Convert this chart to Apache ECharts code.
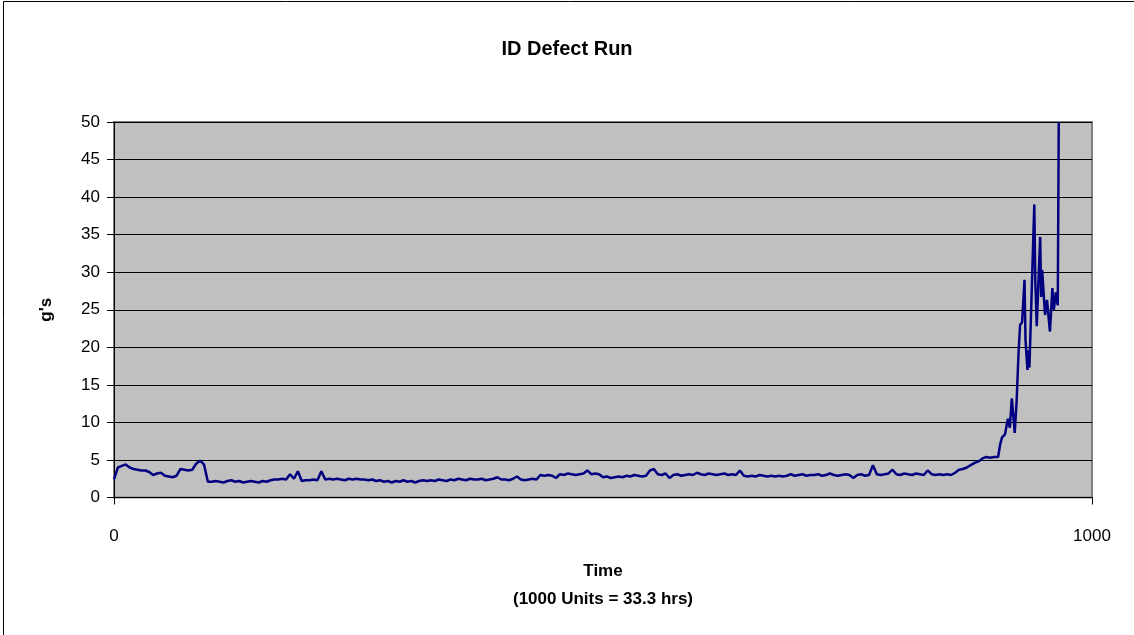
<!DOCTYPE html>
<html>
<head>
<meta charset="utf-8">
<title>ID Defect Run</title>
<script src="https://cdn.jsdelivr.net/npm/echarts@6/dist/echarts.min.js"></script>
<style>
  html, body { margin: 0; padding: 0; background: #fff; }
  #chart { width: 1134px; height: 635px; }
</style>
</head>
<body>
<div id="chart"></div>
<script>
// readings every 4 time units, t = 0 .. 904
const flatStep = 4;
const flatValues = [
  2.4, 4.0, 4.2, 4.4, 4.0, 3.8, 3.7, 3.6, 3.6, 3.4,
  3.0, 3.2, 3.3, 2.9, 2.8, 2.7, 2.9, 3.8, 3.7, 3.6,
  3.7, 4.5, 4.9, 4.4, 2.1, 2.1, 2.2, 2.1, 2.0, 2.2,
  2.3, 2.1, 2.2, 2.0, 2.1, 2.2, 2.1, 2.0, 2.2, 2.1,
  2.3, 2.4, 2.4, 2.5, 2.4, 3.1, 2.5, 3.5, 2.2, 2.3,
  2.3, 2.4, 2.3, 3.5, 2.4, 2.5, 2.4, 2.5, 2.4, 2.3,
  2.5, 2.4, 2.5, 2.4, 2.4, 2.3, 2.4, 2.2, 2.3, 2.1,
  2.2, 2.0, 2.2, 2.1, 2.3, 2.1, 2.2, 2.0, 2.2, 2.3,
  2.2, 2.3, 2.2, 2.4, 2.3, 2.2, 2.4, 2.3, 2.5, 2.4,
  2.3, 2.5, 2.4, 2.4, 2.5, 2.3, 2.4, 2.5, 2.7, 2.4,
  2.4, 2.3, 2.5, 2.8, 2.4, 2.3, 2.4, 2.5, 2.4, 3.0,
  2.9, 3.0, 2.9, 2.6, 3.1, 3.0, 3.2, 3.1, 3.0, 3.1,
  3.2, 3.6, 3.1, 3.2, 3.1, 2.7, 2.8, 2.6, 2.7, 2.8,
  2.7, 2.9, 2.8, 3.0, 2.9, 2.8, 2.9, 3.6, 3.8, 3.1,
  3.0, 3.2, 2.6, 3.0, 3.1, 2.9, 3.0, 3.1, 3.0, 3.3,
  3.1, 3.0, 3.2, 3.1, 3.0, 3.1, 3.2, 3.0, 3.1, 3.0,
  3.6, 2.9, 2.8, 2.9, 2.8, 3.0, 2.9, 2.8, 2.9, 2.8,
  2.9, 2.8, 2.9, 3.1, 2.9, 3.0, 3.1, 2.9, 3.0, 3.0,
  3.1, 2.9, 3.0, 3.2, 3.0, 2.9, 3.0, 3.1, 3.0, 2.6,
  3.0, 3.1, 2.9, 3.0, 4.3, 3.1, 3.0, 3.1, 3.2, 3.7,
  3.1, 3.0, 3.2, 3.1, 3.0, 3.2, 3.1, 3.0, 3.6, 3.1,
  3.0, 3.1, 3.0, 3.1, 3.0, 3.3, 3.7, 3.8, 4.0, 4.3,
  4.6, 4.8, 5.2, 5.4, 5.3, 5.4, 5.4
];

// failure region, irregular readings
const spikeTimes = [
  906, 908, 911, 913, 914, 916, 918, 921, 923, 925,
  926.5, 928.5, 931, 932, 934, 935, 936, 938, 941, 942,
  943.5, 947, 948, 949, 952, 954, 957, 959.5, 961, 963,
  965, 966
];
const spikeValues = [
  7.0, 8.0, 8.4, 8.3, 10.5, 9.3, 13.2, 8.6, 13.0, 19.6,
  23.0, 23.3, 29.0, 21.0, 17.0, 19.6, 17.3, 17.5, 39.0, 29.0,
  22.8, 34.7, 26.7, 30.3, 24.3, 26.3, 22.1, 27.9, 25.0, 27.3,
  25.6, 50
];

const xTicks = [0, 1000];
const yTicks = [0, 5, 10, 15, 20, 25, 30, 35, 40, 45, 50];

const seriesData = flatValues.map((v, i) => [i * flatStep, v])
  .concat(spikeTimes.map((t, i) => [t, spikeValues[i]]));

const font = "'Liberation Sans', Arial, sans-serif";

const options = {
  animation: false,
  backgroundColor: "#fff",
  graphic: [
    {
      type: "rect",
      shape: { x: 3.5, y: 1.5, width: 1200, height: 700 },
      style: { fill: "none", stroke: "#000", lineWidth: 1 },
      silent: true,
    },
  ],
  title: {
    text: "ID Defect Run",
    left: "center",
    top: 34,
    textStyle: {
      fontFamily: font,
      fontSize: 20,
      fontWeight: "bold",
      color: "#000",
    },
  },
  grid: {
    left: 114,
    right: 42,
    top: 122,
    bottom: 137.5,
    show: true,
    backgroundColor: "#c0c0c0",
    borderColor: "#808080",
    borderWidth: 2,
  },
  xAxis: {
    type: "value",
    min: xTicks[0],
    max: xTicks[xTicks.length - 1],
    interval: 1000,
    name: "Time\n(1000 Units = 33.3 hrs)",
    nameLocation: "middle",
    nameGap: 60,
    nameTextStyle: {
      fontFamily: font,
      fontSize: 17,
      fontWeight: "bold",
      color: "#000",
      lineHeight: 28,
    },
    axisLine: { show: true, onZero: false, lineStyle: { color: "#000", width: 1 } },
    axisTick: { show: true, length: 7, lineStyle: { color: "#000" } },
    axisLabel: {
      fontFamily: font,
      fontSize: 17,
      color: "#000",
      margin: 30,
      formatter: (v) => String(v),
    },
    splitLine: { show: false },
  },
  yAxis: {
    type: "value",
    min: yTicks[0],
    max: yTicks[yTicks.length - 1],
    interval: 5,
    name: "g's",
    nameLocation: "middle",
    nameRotate: 90,
    nameGap: 59,
    nameTextStyle: {
      fontFamily: font,
      fontSize: 17,
      fontWeight: "bold",
      color: "#000",
    },
    axisLine: { show: true, lineStyle: { color: "#000", width: 1 } },
    axisTick: { show: true, length: 7, lineStyle: { color: "#000" } },
    axisLabel: { fontFamily: font, fontSize: 17, color: "#000", margin: 14 },
    splitLine: { show: true, lineStyle: { color: "#000", width: 1 } },
  },
  series: [
    {
      name: "g's",
      type: "line",
      data: seriesData,
      showSymbol: false,
      clip: true,
      lineStyle: { color: "#000080", width: 2.5 },
      itemStyle: { color: "#000080" },
    },
  ],
};

const chart = echarts.init(document.getElementById("chart"));
chart.setOption(options);
</script>
</body>
</html>
